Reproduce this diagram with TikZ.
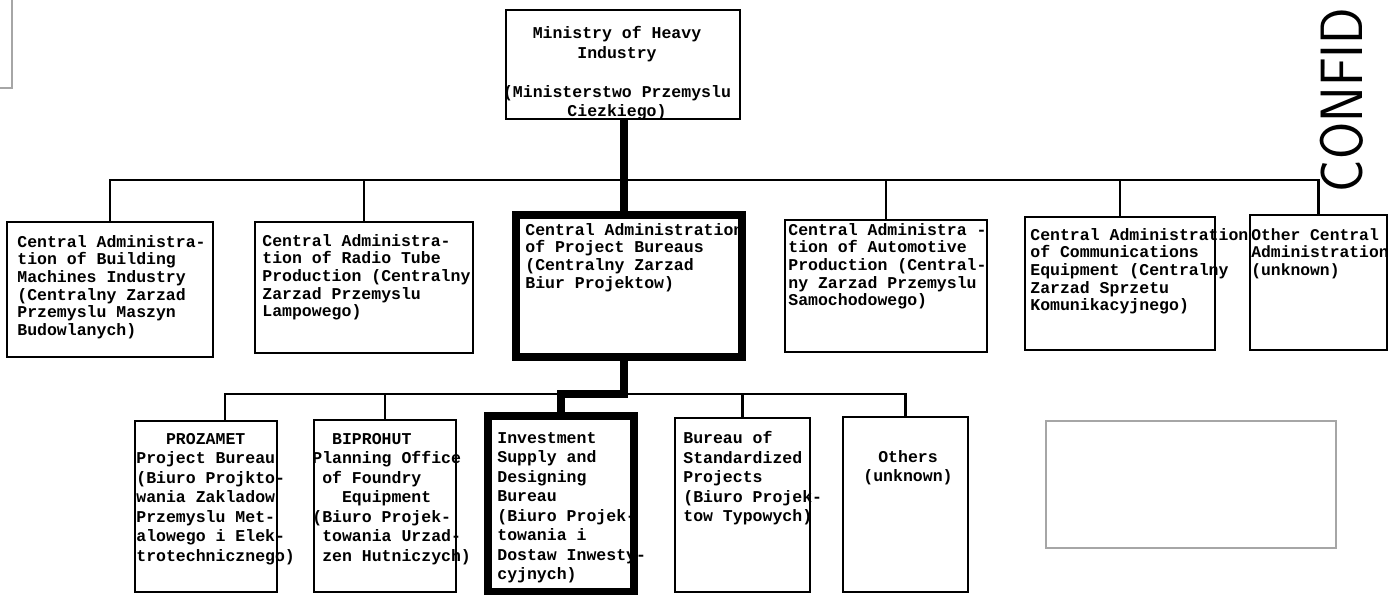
\documentclass[tikz,border=0pt]{standalone}
\usepackage{fontspec}
\usepackage{graphicx}
\setmonofont{Liberation Mono}
\usetikzlibrary{fit}

\begin{document}
\begin{tikzpicture}[x=0.02cm, y=-0.02cm,
    unit/.style={draw, line width=1.6pt, inner sep=0pt},
    lead/.style={draw, line width=4pt, inner sep=0pt},
    txt/.style={anchor=north west, inner sep=0pt, align=left, font=\ttfamily\bfseries\fontsize{9.4}{10}\selectfont},
    txtb/.style={txt, font=\ttfamily\bfseries\fontsize{9.4}{11.1}\selectfont},
    link/.style={line width=1.5pt},
    heavy/.style={line width=4.5pt}]

    \clip (0,0) rectangle (1390,595);

    % Ministry
    \node[unit, fit={(506,10) (740,119)}] (tmi) {};
    \node[txtb, anchor=north, align=center] (tmit) at (617,26) {Ministry of Heavy\\Industry\\[11.1pt](Ministerstwo Przemyslu\\Ciezkiego)};

    % Central administrations
    \node[unit, fit={(7,222) (213,357)}] (bmi) {};
    \node[unit, fit={(255,222) (473,353)}] (rtp) {};
    \node[lead, fit={(516,215) (742,357)}] (cpb) {};
    \node[unit, fit={(785,220) (987,352)}] (aut) {};
    \node[unit, fit={(1025,217) (1215,350)}] (com) {};
    \node[unit, fit={(1250,215) (1387,350)}] (oth) {};

    \node[txt] (bmit) at (17,235) {Central Administra-\\tion of Building\\Machines Industry\\(Centralny Zarzad\\Przemyslu Maszyn\\Budowlanych)};
    \node[txt] (rtpt) at (262,234) {Central Administra-\\tion of Radio Tube\\Production (Centralny\\Zarzad Przemyslu\\Lampowego)};
    \node[txt] (cpbt) at (525,223) {Central Administration\\of Project Bureaus\\(Centralny Zarzad\\Biur Projektow)};
    \node[txt] (autt) at (788,223) {Central Administra -\\tion of Automotive\\Production (Central-\\ny Zarzad Przemyslu\\Samochodowego)};
    \node[txt] (comt) at (1030,228) {Central Administration\\of Communications\\Equipment (Centralny\\Zarzad Sprzetu\\Komunikacyjnego)};
    \node[txt, font=\ttfamily\bfseries\fontsize{9.3}{10}\selectfont] (otht) at (1251,228) {Other Central\\Administration\\(unknown)};

    % Project bureaus
    \node[unit, fit={(135,421) (277,592)}] (pro) {};
    \node[unit, fit={(314,420) (456,592)}] (bip) {};
    \node[lead, fit={(488,416) (634,592)}] (inv) {};
    \node[unit, fit={(675,418) (810,592)}] (std) {};
    \node[unit, fit={(843,417) (968,592)}] (ots) {};

    \node[txtb] (prot) at (136,433) {\phantom{xxx}PROZAMET\\Project Bureau\\(Biuro Projkto-\\wania Zakladow\\Przemyslu Met-\\alowego i Elek-\\trotechnicznego)};
    \node[txtb] (bipt) at (312,433) {\phantom{xx}BIPROHUT\\Planning Office\\\phantom{x}of Foundry\\\phantom{xxx}Equipment\\(Biuro Projek-\\\phantom{x}towania Urzad-\\\phantom{x}zen Hutniczych)};
    \node[txtb] (invt) at (497,432) {Investment\\Supply and\\Designing\\Bureau\\(Biuro Projek-\\towania i\\Dostaw Inwesty-\\cyjnych)};
    \node[txtb] (stdt) at (683,431) {Bureau of\\Standardized\\Projects\\(Biuro Projek-\\tow Typowych)};
    \node[txtb, anchor=north, align=center] (otst) at (908,450) {Others\\(unknown)};

    % Blank frames
    \node[draw=gray!70, line width=0.6pt, inner sep=0pt, fit={(1046,421) (1336,548)}] (blank) {};
    \draw[gray!70, line width=0.6pt] (-5,88) -- (12,88) -- (12,-5);

    % Stamp
    \node[rotate=90, inner sep=0pt, font=\sffamily\fontsize{34}{34}\selectfont] (stamp) at (1342,100) {\scalebox{0.9}[1]{CONFID}};

    % Lines
    \coordinate (bus) at (624,180);
    \coordinate (lbus) at (624,394);
    \coordinate (prox) at (225,0);

    \draw[heavy] (bus |- tmi.south) -- (bus |- cpb.north);
    \draw[link] (bmi.north) |- (bus) -| (oth.north);
    \draw[link] (rtp.north) -- (rtp.north |- bus);
    \draw[link] (aut.north) -- (aut.north |- bus);
    \draw[link] (com.north) -- (com.north |- bus);

    \draw[link] (prox |- pro.north) |- (lbus) -| (ots.north);
    \draw[link] (bip.north) -- (bip.north |- lbus);
    \draw[link] (std.north) -- (std.north |- lbus);
    \draw[heavy] (lbus |- cpb.south) -- (lbus) -| (inv.north);
\end{tikzpicture}
\end{document}
